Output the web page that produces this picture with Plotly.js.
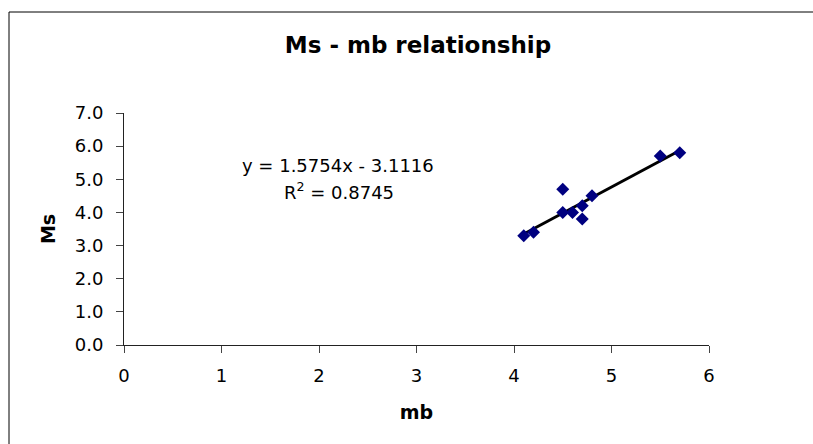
<!DOCTYPE html>
<html>
<head>
<meta charset="utf-8">
<script src="https://cdn.plot.ly/plotly-3.0.1.min.js"></script>
<style>html,body{margin:0;padding:0;background:#fff;}#chart{width:813px;height:444px;}</style>
</head>
<body>
<div id="chart"></div>
<script>
const mb = [4.1, 4.2, 4.5, 4.5, 4.6, 4.7, 4.7, 4.8, 5.5, 5.7];
const Ms = [3.3, 3.4, 4.7, 4.0, 4.0, 3.8, 4.2, 4.5, 5.7, 5.8];
const slope = 1.5754;
const intercept = -3.1116;
const r2 = 0.8745;
const xTicks = [0, 1, 2, 3, 4, 5, 6];
const yTicks = [0, 1, 2, 3, 4, 5, 6, 7];

const xMin = Math.min(...mb), xMax = Math.max(...mb);
const trendX = [xMin, xMax];
const trendY = trendX.map(x => slope * x + intercept);

const font = {family: 'DejaVu Sans, Liberation Sans, Arial, sans-serif', color: '#000'};

Plotly.newPlot('chart', [
  {x: trendX, y: trendY, mode: 'lines', line: {color: '#000', width: 3}, hoverinfo: 'skip'},
  {x: mb, y: Ms, mode: 'markers', marker: {symbol: 'diamond', size: 10, color: '#000080'}}
], {
  width: 813, height: 444,
  margin: {l: 124, r: 104, t: 113, b: 99},
  paper_bgcolor: '#fff', plot_bgcolor: '#fff',
  showlegend: false,
  font: Object.assign({size: 18}, font),
  title: {text: '<b>Ms - mb relationship</b>', font: Object.assign({size: 23}, font), x: 418 / 813, xanchor: 'center', y: 1 - 45 / 444, yanchor: 'middle'},
  xaxis: {
    range: [0, 6], tickvals: xTicks, ticktext: xTicks.map(String),
    showgrid: false, zeroline: false, showline: true, linecolor: '#222', linewidth: 1,
    ticks: 'outside', ticklen: 7, tickcolor: '#444', tickfont: Object.assign({size: 18}, font),
    ticklabelstandoff: 7,
    title: {text: '<b>mb</b>', font: Object.assign({size: 19}, font), standoff: 21}
  },
  yaxis: {
    range: [0, 7], tickvals: yTicks, ticktext: yTicks.map(v => v.toFixed(1)),
    showgrid: false, zeroline: false, showline: true, linecolor: '#222', linewidth: 1,
    ticks: 'outside', ticklen: 7, tickcolor: '#444', tickfont: Object.assign({size: 18}, font),
    ticklabelstandoff: 9,
    title: {text: '<b>Ms</b>', font: Object.assign({size: 19}, font), standoff: 14}
  },
  annotations: [{
    xref: 'paper', yref: 'paper', x: (338 - 124) / 585, y: (345 - 165) / 232,
    xanchor: 'center', yanchor: 'middle', showarrow: false,
    text: 'y = ' + slope + 'x - ' + Math.abs(intercept),
    font: Object.assign({size: 18}, font)
  }, {
    xref: 'paper', yref: 'paper', x: (339 - 124) / 585, y: (345 - 191) / 232,
    xanchor: 'center', yanchor: 'middle', showarrow: false,
    text: 'R<sup>2</sup> = ' + r2,
    font: Object.assign({size: 18}, font)
  }],
  shapes: [{
    type: 'rect', xref: 'paper', yref: 'paper',
    x0: (9 - 124) / 585, x1: (830 - 124) / 585, y0: (345 - 460) / 232, y1: (345 - 12) / 232,
    line: {color: '#000', width: 1}, fillcolor: 'rgba(0,0,0,0)', layer: 'below'
  }]
}, {staticPlot: true});
</script>
</body>
</html>
